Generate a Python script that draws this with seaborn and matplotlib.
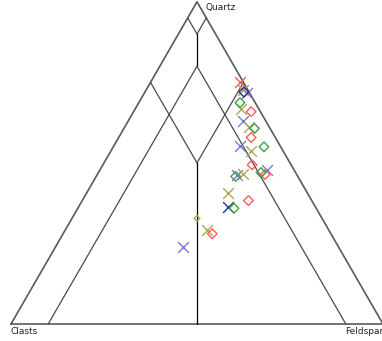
import numpy as np
import pandas as pd
import seaborn as sns
import matplotlib
matplotlib.use("Agg")
from matplotlib import pyplot as plt

sns.set_style("white")
plt.rcParams["font.family"] = ["DejaVu Sans"]

# compositions as (quartz, feldspar, clasts) in percent
red_crosses = [(75, 24, 1)]
red_diamonds = [(65.9, 31.6, 2.5), (57.9, 35.6, 6.5), (49.4, 40.1, 10.5),
                (46.4, 45.1, 8.5), (38.3, 44.7, 17.0), (28.0, 40.1, 31.9)]
blue_crosses = [(71.7, 27.5, 0.8), (63.0, 30.8, 6.2), (55.2, 34.0, 10.8),
                (47.8, 45.0, 7.2), (46.3, 37.5, 16.2), (24.0, 34.3, 41.7)]
navy_crosses = [(36.4, 40.2, 23.4)]
navy_diamonds = [(72.0, 26.6, 1.4)]
olive_crosses = [(72.7, 26.0, 1.3), (66.8, 28.4, 4.8), (61.2, 33.5, 5.3),
                 (53.6, 37.8, 8.6), (46.7, 39.0, 14.3), (40.6, 38.1, 21.3),
                 (29.2, 38.0, 32.8)]
olive_dots = [(32.8, 33.6, 33.6)]
green_diamonds = [(68.7, 27.2, 4.1), (60.7, 35.1, 4.2), (55.0, 40.5, 4.5),
                  (47.0, 43.7, 9.3), (45.8, 37.5, 16.7), (35.9, 42.0, 22.1)]

# field boundaries (quartz, feldspar, clasts) start -> end
boundaries = [
    ((95, 0, 5), (90, 5, 5)),
    ((95, 5, 0), (90, 5, 5)),
    ((90, 5, 5), (80, 10, 10)),
    ((80, 10, 10), (0, 10, 90)),
    ((80, 10, 10), (0, 90, 10)),
    ((75, 0, 25), (50, 25, 25)),
    ((75, 25, 0), (50, 25, 25)),
    ((50, 25, 25), (0, 50, 50)),
]
vertices = [(0, 0, 100), (0, 100, 0), (100, 0, 0)]


def to_xy(comp):
    comp = np.asarray(comp, dtype=float).reshape(-1, 3)
    comp = comp / comp.sum(axis=1, keepdims=True)
    q, f = comp[:, 0], comp[:, 1]
    return f + q / 2, q * np.sqrt(3) / 2


frames = []
for name, pts in [("red_x", red_crosses), ("red_D", red_diamonds),
                  ("blue_x", blue_crosses), ("navy_x", navy_crosses),
                  ("navy_D", navy_diamonds), ("olive_x", olive_crosses),
                  ("olive_o", olive_dots), ("green_D", green_diamonds)]:
    x, y = to_xy(pts)
    frames.append(pd.DataFrame({"x": x, "y": y, "series": name}))
df = pd.concat(frames, ignore_index=True)

styles = {
    "red_x": ("#ff5a5a", "x", 60),
    "blue_x": ("#7777dd", "x", 60),
    "navy_x": ("#2a2a99", "x", 60),
    "olive_x": ("#aaaa55", "x", 60),
    "red_D": ("#ff5a5a", "D", 24),
    "navy_D": ("#2a2a99", "D", 24),
    "green_D": ("#44a044", "D", 24),
    "olive_o": ("#aaaa55", "D", 9),
}

fig = plt.figure(figsize=(3.82, 3.41), dpi=100)
ax = fig.add_axes([0, 0, 1, 1])

# outer triangle
tx, ty = to_xy(vertices + vertices[:1])
ax.plot(tx, ty, color="#5a5a5a", lw=1.2, zorder=1)

for a, b in boundaries:
    bx, by = to_xy([a, b])
    col = "black" if a[1] == a[2] and b[1] == b[2] else "#4a4a4a"
    ax.plot(bx, by, color=col, lw=0.9, zorder=1)

for name, (col, mk, size) in styles.items():
    sub = df[df["series"] == name]
    if mk == "x":
        sns.scatterplot(data=sub, x="x", y="y", color=col, marker="x",
                        s=size, linewidth=1, ax=ax, zorder=3)
    else:
        sns.scatterplot(data=sub, x="x", y="y", marker="D", s=size,
                        facecolor="none", edgecolor=col, linewidth=1,
                        ax=ax, zorder=3)

# corner labels
qx, qy = to_xy(vertices[2])
cx, cy = to_xy(vertices[0])
fx, fy = to_xy(vertices[1])
ax.annotate("Quartz", (qx[0], qy[0]), xytext=(8, -6), textcoords="offset pixels",
            ha="left", va="center", fontsize=6.5, color="#222222",
            annotation_clip=False)
ax.annotate("Clasts", (cx[0], cy[0]), xytext=(-1, -8), textcoords="offset pixels",
            ha="left", va="center", fontsize=6.5, color="#222222",
            annotation_clip=False)
ax.annotate("Feldspar", (fx[0], fy[0]), xytext=(-38, -7), textcoords="offset pixels",
            ha="left", va="center", fontsize=6.5, color="#222222",
            annotation_clip=False)

ax.set_xlim(-11 / 372, 371 / 372)
ax.set_ylim(-17 / 372, 324 / 372)
ax.set_xlabel("")
ax.set_ylabel("")
ax.axis("off")

fig.savefig("out.png", dpi=100)
